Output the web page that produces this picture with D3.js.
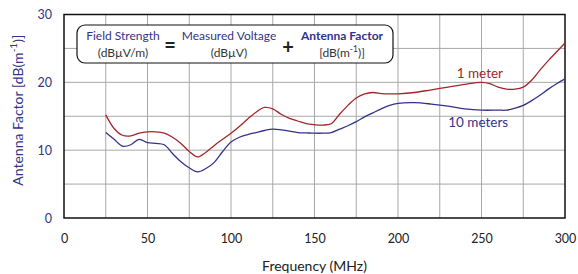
<!DOCTYPE html>
<html><head><meta charset="utf-8">
<script src="https://cdn.jsdelivr.net/npm/d3@7"></script>
<style>body{margin:0;background:#fff}svg{display:block;font-family:Lato,"Open Sans",sans-serif}</style>
</head><body><svg id="c" width="578" height="274"></svg>
<script>
const freq1m = [25,30,35,40,45,50,55,60,65,70,75,80,85,90,95,100,105,110,115,120,125,130,135,140,145,150,155,160,165,170,175,180,185,190,195,200,210,220,230,240,250,255,260,265,270,275,280,285,290,295,300];
const af1m = [15.2,13.2,12.2,12.1,12.5,12.7,12.7,12.5,11.9,11.0,9.8,9.0,9.7,10.7,11.6,12.5,13.5,14.6,15.6,16.3,16.1,15.3,14.7,14.3,13.9,13.75,13.7,13.9,15.3,16.6,17.7,18.3,18.5,18.35,18.3,18.3,18.5,18.9,19.3,19.7,20.0,19.8,19.3,19.0,19.0,19.3,20.3,21.8,23.2,24.5,25.8];
const freq10m = [25,30,35,40,45,50,55,60,65,70,75,80,85,90,95,100,105,110,115,120,125,130,135,140,145,150,155,160,165,170,175,180,185,190,195,200,210,220,230,240,250,260,265,270,275,280,285,290,295,300];
const af10m = [12.6,11.6,10.6,10.8,11.6,11.1,11.0,10.8,9.5,8.3,7.4,6.8,7.3,8.2,9.8,11.2,11.9,12.3,12.6,12.9,13.1,13.0,12.8,12.6,12.55,12.5,12.5,12.6,13.1,13.6,14.2,14.9,15.5,16.1,16.6,16.9,17.0,16.8,16.5,16.1,15.9,15.9,15.9,16.2,16.6,17.3,18.1,19.0,19.8,20.5];
const xTicks = [0,50,100,150,200,250,300];
const yTicks = [0,10,20,30];
const xGrid = d3.range(0,301,25);
const yGrid = d3.range(0,31,5);
const seriesNames = ["1 meter","10 meters"];

const svg = d3.select("#c");
const m = {l:64,r:565,t:14.5,b:218};
const x = d3.scaleLinear().domain([0,300]).range([m.l,m.r]);
const y = d3.scaleLinear().domain([0,30]).range([m.b,m.t]);
const navy = "#33338a", red = "#a3262c";

// grid
svg.append("g").selectAll("line").data(xGrid.slice(1,-1)).join("line")
  .attr("x1",d=>x(d)).attr("x2",d=>x(d)).attr("y1",y(0)).attr("y2",y(30))
  .attr("stroke","#a8a8a8").attr("stroke-width",1);
svg.append("g").selectAll("line").data(yGrid.slice(1,-1)).join("line")
  .attr("x1",x(0)).attr("x2",x(300)).attr("y1",d=>y(d)).attr("y2",d=>y(d))
  .attr("stroke","#a8a8a8").attr("stroke-width",1);

// frame
svg.append("rect").attr("x",x(0)).attr("y",y(30)).attr("width",x(300)-x(0)).attr("height",y(0)-y(30))
  .attr("fill","none").attr("stroke","#111").attr("stroke-width",1.5);

// axes
const xa = svg.append("g").attr("transform",`translate(0,${y(0)})`)
  .call(d3.axisBottom(x).tickValues(xTicks).tickSize(0).tickPadding(16));
xa.select(".domain").remove();
xa.selectAll("text").attr("font-size",12.5).attr("fill","#222").attr("font-family","Lato, sans-serif");
const ya = svg.append("g").attr("transform",`translate(${x(0)},0)`)
  .call(d3.axisLeft(y).tickValues(yTicks).tickSize(0).tickPadding(12));
ya.select(".domain").remove();
ya.selectAll("text").attr("font-size",12.5).attr("fill",navy).attr("font-family","Lato, sans-serif");

// titles
svg.append("text").attr("x",(x(0)+x(300))/2).attr("y",271).attr("text-anchor","middle")
  .attr("font-size",14).attr("fill","#222").text("Frequency (MHz)");
const yt = svg.append("text").attr("transform",`translate(23,${(y(0)+y(30))/2-6}) rotate(-90)`)
  .attr("text-anchor","middle").attr("font-size",14).attr("fill",navy);
yt.append("tspan").text("Antenna Factor [dB(m");
yt.append("tspan").attr("baseline-shift","super").attr("font-size",10).text("-1");
yt.append("tspan").text(")]");

// lines
const line = d3.line().x(d=>x(d[0])).y(d=>y(d[1])).curve(d3.curveCatmullRom.alpha(0.5));
svg.append("path").datum(freq1m.map((f,i)=>[f,af1m[i]])).attr("d",line)
  .attr("fill","none").attr("stroke",red).attr("stroke-width",1.3);
svg.append("path").datum(freq10m.map((f,i)=>[f,af10m[i]])).attr("d",line)
  .attr("fill","none").attr("stroke",navy).attr("stroke-width",1.3);

// series labels
svg.append("text").attr("x",x(249)).attr("y",y(20.6)).attr("text-anchor","middle")
  .attr("font-size",13.5).attr("fill",red).text(seriesNames[0]);
svg.append("text").attr("x",x(248)).attr("y",y(13.4)).attr("text-anchor","middle")
  .attr("font-size",13.5).attr("fill",navy).text(seriesNames[1]);

// formula box
svg.append("rect").attr("x",77).attr("y",25).attr("width",316).attr("height",38).attr("rx",8)
  .attr("fill","#fff").attr("stroke","#111").attr("stroke-width",1.2);
function term(cx, top, bottom, bold){
  svg.append("text").attr("x",cx).attr("y",40).attr("text-anchor","middle").attr("font-size",12)
    .attr("font-weight",bold?"bold":"normal").attr("fill",navy).text(top);
  const t = svg.append("text").attr("x",cx).attr("y",57).attr("text-anchor","middle").attr("font-size",12).attr("fill","#333");
  return t;
}
term(123,"Field Strength").text("(dBµV/m)");
term(229,"Measured Voltage").text("(dBµV)");
const af = term(342,"Antenna Factor",null,true);
af.append("tspan").text("[dB(m");
af.append("tspan").attr("baseline-shift","super").attr("font-size",8.5).text("-1");
af.append("tspan").text(")]");
svg.append("text").attr("x",170).attr("y",52).attr("text-anchor","middle").attr("font-size",20).attr("font-weight","bold").attr("fill","#222").text("=");
svg.append("text").attr("x",288).attr("y",54).attr("text-anchor","middle").attr("font-size",20).attr("font-weight","bold").attr("fill","#222").text("+");
</script></body></html>
